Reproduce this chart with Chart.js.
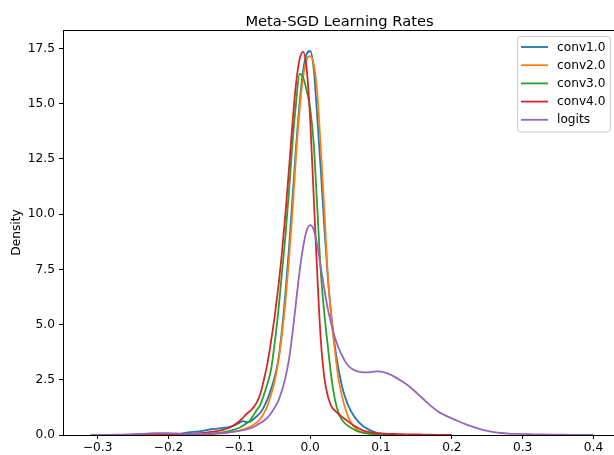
<!DOCTYPE html>
<html>
<head>
<meta charset="utf-8">
<script src="https://cdn.jsdelivr.net/npm/chart.js@4/dist/chart.umd.min.js"></script>
<style>
html,body{margin:0;padding:0;background:#fff;}
#wrap{width:614px;height:455px;}
</style>
</head>
<body>
<div id="wrap"><canvas id="c" width="614" height="455"></canvas></div>
<script>
// ---------- DATA ----------
const chartTitle = "Meta-SGD Learning Rates";
const yAxisTitle = "Density";
const seriesNames = ["conv1.0", "conv2.0", "conv3.0", "conv4.0", "logits"];
const seriesColors = ["#1f77b4", "#ff7f0e", "#2ca02c", "#d62728", "#9467bd"];
const xTicks = [-0.3, -0.2, -0.1, 0.0, 0.1, 0.2, 0.3, 0.4];
const yTicks = [0.0, 2.5, 5.0, 7.5, 10.0, 12.5, 15.0, 17.5];

const xGrid = [
  -0.32,-0.31,-0.30,-0.29,-0.28,-0.27,-0.26,-0.25,-0.24,-0.23,-0.22,-0.21,-0.20,-0.19,-0.18,-0.17,-0.16,-0.15,-0.14,-0.13,-0.12,-0.11,
  -0.100,-0.095,-0.090,-0.085,-0.080,-0.075,-0.070,-0.065,-0.060,-0.055,-0.050,-0.045,-0.040,-0.035,-0.030,-0.025,-0.020,-0.015,-0.010,-0.005,
  0.000,0.005,0.010,0.015,0.020,0.025,0.030,0.035,0.040,0.045,0.050,0.055,0.060,0.065,0.070,0.075,0.080,0.085,0.090,0.095,0.100,
  0.11,0.12,0.13,0.14,0.15,0.16,0.17,0.18,0.19,0.20,0.21,0.22,0.23,0.24,0.25,0.26,0.27,0.28,0.29,0.30,0.31,0.32,0.33,0.34,0.35,0.36,0.37,0.38,0.39,0.40
];

const conv1 = [
  null,null,null,null,null,null,null,null,null,null,null,null,0,0.02,0.07,0.13,0.15,0.2,0.26,0.29,0.33,0.4,
  0.55,0.63,0.58,0.6,0.72,0.86,1.02,1.3,1.65,2.1,2.65,3.4,4.7,6.4,8.4,10.7,13.0,15.0,16.5,17.25,
  17.39,16.6,14.4,12.0,9.4,7.1,5.4,4.0,3.0,2.2,1.65,1.25,0.95,0.72,0.54,0.4,0.3,0.21,0.14,0.09,0.06,
  0.02,0,null,null,null,null,null,null,null,null,null,null,null,null,null,null,null,null,null,null,null,null,null,null,null,null,null,null,null,null
];
const conv2 = [
  null,null,null,null,null,null,null,null,null,null,null,null,0,0.005,0.01,0.015,0.02,0.03,0.04,0.06,0.09,0.14,
  0.2,0.25,0.3,0.37,0.46,0.58,0.75,1.0,1.35,1.85,2.45,3.3,4.5,6.0,7.9,10.1,12.6,14.7,16.2,17.0,
  17.16,16.8,15.5,13.0,10.2,7.2,5.3,3.8,2.55,1.75,1.15,0.72,0.45,0.28,0.17,0.11,0.08,0.06,0.05,0.04,0.03,
  0.02,0.01,0.005,0,null,null,null,null,null,null,null,null,null,null,null,null,null,null,null,null,null,null,null,null,null,null,null,null,null,null
];
const conv3 = [
  null,null,null,null,null,null,null,null,null,null,null,null,0,0.005,0.01,0.015,0.025,0.04,0.06,0.09,0.14,0.22,
  0.33,0.42,0.52,0.65,0.9,1.15,1.4,1.85,2.35,3.0,4.2,5.6,7.3,9.0,11.0,13.2,15.0,16.35,16.2,15.6,
  14.8,13.2,10.3,7.4,5.5,4.0,2.6,1.6,1.0,0.68,0.5,0.38,0.28,0.2,0.14,0.1,0.07,0.05,0.04,0.03,0.02,
  0.01,0,null,null,null,null,null,null,null,null,null,null,null,null,null,null,null,null,null,null,null,null,null,null,null,null,null,null,null,null
];
const conv4 = [
  null,null,null,null,null,null,null,0,0.005,0.01,0.015,0.02,0.025,0.03,0.04,0.05,0.07,0.1,0.14,0.19,0.26,0.4,
  0.62,0.78,0.95,1.08,1.25,1.5,1.9,2.55,3.3,4.3,5.4,6.7,8.2,10.0,12.0,14.1,15.9,17.0,17.35,16.6,
  14.3,10.8,7.3,4.3,2.6,1.75,1.3,1.1,0.95,0.82,0.7,0.58,0.46,0.36,0.28,0.2,0.15,0.12,0.1,0.08,0.07,
  0.055,0.045,0.035,0.03,0.025,0.02,0.015,0.01,0.005,0,null,null,null,null,null,null,null,null,null,null,null,null,null,null,null,null,null,null,null,null
];
const logits = [
  null,0,0.002,0.005,0.01,0.015,0.025,0.035,0.05,0.065,0.08,0.085,0.08,0.07,0.06,0.05,0.045,0.05,0.06,0.08,0.1,0.14,
  0.19,0.22,0.26,0.3,0.36,0.45,0.55,0.66,0.8,1.0,1.25,1.55,2.0,2.6,3.4,4.6,6.0,7.4,8.5,9.25,
  9.5,9.3,8.6,7.6,6.6,5.7,5.0,4.4,3.95,3.6,3.3,3.1,2.98,2.9,2.86,2.84,2.84,2.85,2.87,2.88,2.87,
  2.78,2.62,2.42,2.2,1.92,1.62,1.33,1.08,0.9,0.75,0.61,0.48,0.37,0.27,0.19,0.13,0.09,0.065,0.05,0.04,0.035,0.03,0.025,0.02,0.015,0.012,0.008,0.005,0.002,0
];
const seriesValues = [conv1, conv2, conv3, conv4, logits];

// ---------- CHART ----------
const FONT = "'DejaVu Sans', 'Liberation Sans', sans-serif";
const fmt = v => v.toFixed(1).replace('-', '\u2212');

const datasets = seriesValues.map((vals, i) => ({
  label: seriesNames[i],
  data: xGrid.map((x, j) => ({x: x, y: vals[j]})),
  borderColor: seriesColors[i],
  backgroundColor: seriesColors[i],
  borderWidth: 1.8,
  pointRadius: 0,
  fill: false,
  spanGaps: false,
  cubicInterpolationMode: 'monotone',
  order: seriesValues.length - i
}));

const decorPlugin = {
  id: 'decor',
  afterDraw(chart) {
    const ctx = chart.ctx;
    const a = chart.chartArea;
    ctx.save();
    // top spine
    ctx.strokeStyle = '#000';
    ctx.lineWidth = 1;
    ctx.beginPath();
    ctx.moveTo(a.left, Math.round(a.top) + 0.5);
    ctx.lineTo(a.right, Math.round(a.top) + 0.5);
    ctx.stroke();
    // title
    ctx.fillStyle = '#000';
    ctx.font = "14.7px " + FONT;
    ctx.textAlign = 'center';
    ctx.textBaseline = 'alphabetic';
    ctx.fillText(chartTitle, (a.left + a.right) / 2 + 1, 25.5);
    // legend
    const bx = 517.5, by = 36.5, bw = 93, bh = 95.5, r = 3;
    ctx.fillStyle = 'rgba(255,255,255,0.8)';
    ctx.strokeStyle = '#cccccc';
    ctx.lineWidth = 1;
    ctx.beginPath();
    ctx.moveTo(bx + r, by);
    ctx.lineTo(bx + bw - r, by);
    ctx.arcTo(bx + bw, by, bx + bw, by + r, r);
    ctx.lineTo(bx + bw, by + bh - r);
    ctx.arcTo(bx + bw, by + bh, bx + bw - r, by + bh, r);
    ctx.lineTo(bx + r, by + bh);
    ctx.arcTo(bx, by + bh, bx, by + bh - r, r);
    ctx.lineTo(bx, by + r);
    ctx.arcTo(bx, by, bx + r, by, r);
    ctx.closePath();
    ctx.fill();
    ctx.stroke();
    ctx.font = "12.2px " + FONT;
    ctx.textAlign = 'left';
    ctx.textBaseline = 'middle';
    chart.data.datasets.forEach((ds, i) => {
      const yy = 47 + i * 18.2;
      ctx.strokeStyle = ds.borderColor;
      ctx.lineWidth = 1.8;
      ctx.beginPath();
      ctx.moveTo(521, yy);
      ctx.lineTo(548, yy);
      ctx.stroke();
      ctx.fillStyle = '#000';
      ctx.fillText(ds.label, 557, yy + 0.5);
    });
    ctx.restore();
  }
};

new Chart(document.getElementById('c'), {
  type: 'line',
  data: { datasets: datasets },
  options: {
    responsive: false,
    animation: false,
    devicePixelRatio: 1,
    layout: { padding: { top: 30, left: 0, right: 0, bottom: 0 } },
    plugins: { legend: { display: false }, title: { display: false }, tooltip: { enabled: false } },
    scales: {
      x: {
        type: 'linear',
        min: -0.349,
        max: 0.429,
        afterBuildTicks: s => { s.ticks = xTicks.map(v => ({ value: v })); },
        afterFit: s => { s.height = 20; },
        ticks: {
          callback: v => fmt(v),
          font: { family: FONT, size: 12.2 },
          color: '#000',
          padding: 2,
          maxRotation: 0,
          autoSkip: false
        },
        grid: { drawOnChartArea: false, drawTicks: true, tickLength: 4, tickColor: '#000', tickWidth: 1 },
        border: { display: true, color: '#000', width: 1 }
      },
      y: {
        type: 'linear',
        min: 0,
        max: 18.34,
        afterBuildTicks: s => { s.ticks = yTicks.map(v => ({ value: v })); },
        afterFit: s => { s.width = 63; },
        ticks: {
          callback: v => v.toFixed(1),
          font: { family: FONT, size: 12.2 },
          color: '#000',
          padding: 4,
          autoSkip: false
        },
        title: {
          display: true,
          text: yAxisTitle,
          font: { family: FONT, size: 12.2 },
          color: '#000',
          padding: { top: 10, bottom: 0 }
        },
        grid: { drawOnChartArea: false, drawTicks: true, tickLength: 4, tickColor: '#000', tickWidth: 1 },
        border: { display: true, color: '#000', width: 1 }
      }
    }
  },
  plugins: [decorPlugin]
});
</script>
</body>
</html>
